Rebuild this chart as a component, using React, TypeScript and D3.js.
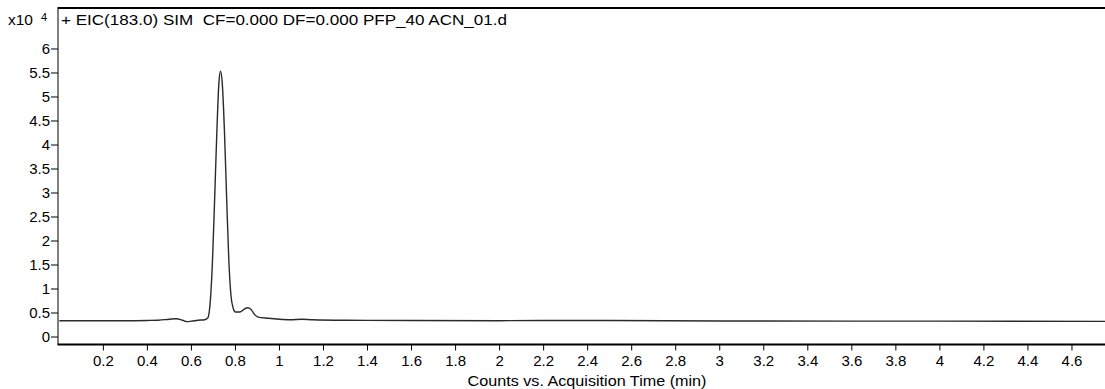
import * as React from 'react';
import * as d3 from 'd3';

// acquisition time (min) and counts (x10^4)
const times = [
  0.0, 0.1, 0.2, 0.3, 0.4, 0.45, 0.5, 0.53, 0.56, 0.58, 0.6, 0.63, 0.66, 0.675,
  0.685, 0.695, 0.705, 0.715, 0.725, 0.732, 0.74, 0.75, 0.76, 0.77, 0.78, 0.79,
  0.8, 0.82, 0.84, 0.855, 0.87, 0.885, 0.9, 0.95, 1.0, 1.05, 1.1, 1.15, 1.3,
  1.6, 2.0, 2.4, 3.0, 3.6, 4.0, 4.75,
];
const counts = [
  0.34, 0.34, 0.34, 0.34, 0.345, 0.35, 0.37, 0.38, 0.35, 0.32, 0.33, 0.35, 0.36, 0.4,
  0.7, 1.5, 2.8, 4.2, 5.3, 5.54, 5.3, 4.3, 2.9, 1.6, 0.85, 0.6,
  0.52, 0.52, 0.58, 0.61, 0.58, 0.48, 0.42, 0.39, 0.37, 0.36, 0.37, 0.36, 0.35,
  0.345, 0.34, 0.345, 0.335, 0.33, 0.33, 0.325,
];
const yTicks = [0, 0.5, 1, 1.5, 2, 2.5, 3, 3.5, 4, 4.5, 5, 5.5, 6];
const xTicks = [0.2, 0.4, 0.6, 0.8, 1, 1.2, 1.4, 1.6, 1.8, 2, 2.2, 2.4, 2.6, 2.8, 3, 3.2, 3.4, 3.6, 3.8, 4, 4.2, 4.4, 4.6];
const title = '+ EIC(183.0) SIM  CF=0.000 DF=0.000 PFP_40 ACN_01.d';
const xTitle = 'Counts vs. Acquisition Time (min)';

const W = 1105;
const H = 389;
const left = 58;
const top = 8;
const bottom = 344.5;
const font = "'Liberation Sans', Arial, sans-serif";

export default function App() {
  const x = d3.scaleLinear().domain([-0.006, 4.75]).range([left, W]);
  const y = d3.scaleLinear().domain([-0.156, 6.854]).range([bottom, top]);

  const pts = times.map((t, i) => [t, counts[i]] as [number, number]);
  const line = d3.line<[number, number]>()
    .x(d => x(d[0]))
    .y(d => y(d[1]))
    .curve(d3.curveMonotoneX);

  return (
    <svg width={W} height={H} style={{ position: 'absolute', left: 0, top: 0, background: '#fff' }}
      fontFamily={font} fontSize={15}>
      <rect x={0} y={0} width={W} height={H} fill="#fff" />
      <path d={line(pts) ?? ''} fill="none" stroke="#2a2a2a" strokeWidth={1.4} />

      {/* frame */}
      <line x1={left} x2={W} y1={top} y2={top} stroke="#000" strokeWidth={2} />
      <line x1={left} x2={left} y1={top - 1} y2={bottom} stroke="#000" strokeWidth={1} />
      <line x1={left - 0.5} x2={W} y1={bottom} y2={bottom} stroke="#000" strokeWidth={2} />

      {yTicks.map(t => (
        <g key={'y' + t} transform={`translate(0, ${y(t)})`}>
          <line x1={left - 7} x2={left} y1={0} y2={0} stroke="#000" />
          <text x={left - 8} dy="0.36em" textAnchor="end">{t}</text>
        </g>
      ))}

      {xTicks.map(t => (
        <g key={'x' + t} transform={`translate(${x(t)}, 0)`}>
          <line x1={0} x2={0} y1={bottom} y2={bottom + 6} stroke="#000" />
          <text y={bottom + 21} textAnchor="middle">{t}</text>
        </g>
      ))}

      <text x={8} y={25} textLength={25} lengthAdjust="spacingAndGlyphs">x10</text>
      <text x={41} y={21} fontSize={11}>4</text>
      <text x={61} y={25} textLength={446} lengthAdjust="spacingAndGlyphs" xmlSpace="preserve">{title}</text>
      <text x={587} y={386} textAnchor="middle" textLength={239} lengthAdjust="spacingAndGlyphs">{xTitle}</text>
    </svg>
  );
}
